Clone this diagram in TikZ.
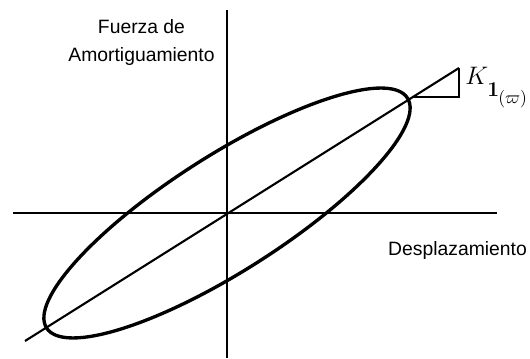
\documentclass[tikz,border=0pt]{standalone}
\usepackage{amsmath}
\usepackage{amssymb}
\usepackage[no-math]{fontspec}
\setmainfont{Liberation Sans}
\usepackage{tikz}

\begin{document}
\begin{tikzpicture}[x=0.02cm, y=0.02cm,
    asse/.style={line width=1pt},
    retta/.style={line width=1.2pt},
    ciclo/.style={line width=1.9pt},
    etichetta/.style={font=\fontsize{11}{13}\selectfont, inner sep=0pt}]
        \useasboundingbox (-227,-145) rectangle (303,213);

        % Assi
        \coordinate (O) at (0,0);
        \coordinate (Ysu) at (0,203);
        \coordinate (Ygiu) at (0,-145);
        \coordinate (Xsx) at (-214,0);
        \coordinate (Xdx) at (270,0);
        \draw[asse] (Xsx) -- (Xdx);
        \draw[asse] (Ygiu) -- (Ysu);

        % Retta di rigidezza e triangolo
        \coordinate (Rgiu) at (-202,-128);
        \coordinate (Rsu) at (232,145);
        \coordinate (Tsx) at (186,116);
        \coordinate (Tdx) at (232,116);
        \draw[retta] (Rgiu) -- (Rsu);
        \draw[line width=0.7pt] (Tsx) -- (Tdx) -- (Rsu);

        % Ciclo di isteresi
        \draw[ciclo, rotate=32.5] (O) ellipse [x radius=4.28cm, y radius=1.16cm];

        % Etichette
        \node[etichetta, anchor=base] (fuerza) at (-85.5,179) {Fuerza de};
        \node[etichetta, anchor=base] (amort) at (-85.5,151) {Amortiguamiento};
        \node[etichetta, anchor=base] (despl) at (230.5,-42) {Desplazamiento};
        \node[anchor=base west, inner sep=0pt] (k1) at (238,128)
            {{\fontsize{15}{18}\selectfont$K$}\kern-0.5pt%
             \raisebox{-6.5pt}{\fontsize{12.5}{15}\selectfont$\mathbf{1}$}\kern-0.5pt%
             \raisebox{-10.5pt}{\fontsize{10}{12}\selectfont$(\varpi)$}};
    \end{tikzpicture}
\end{document}
